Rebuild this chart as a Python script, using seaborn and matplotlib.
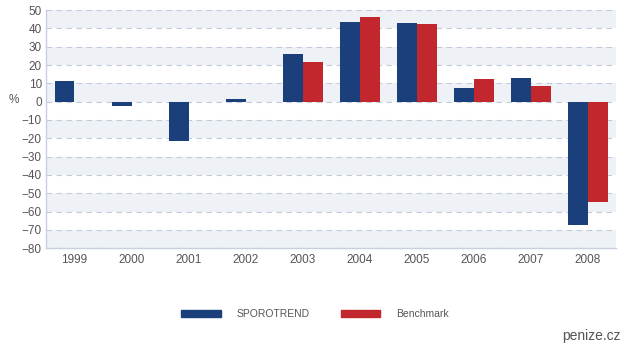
import matplotlib
matplotlib.use('Agg')
import matplotlib.pyplot as plt
import seaborn as sns
import pandas as pd

# Datos (% rendimiento anual)
years = ['1999', '2000', '2001', '2002', '2003', '2004', '2005', '2006', '2007', '2008']
sporotrend = [11.3, -2.6, -21.4, 1.3, 26.1, 43.3, 42.8, 7.7, 13.1, -67.4]
benchmark = [0.0, 0.0, 0.0, -0.4, 21.9, 46.4, 42.2, 12.3, 8.5, -55.0]
series_names = ['SPOROTREND', 'Benchmark']
yticks = list(range(-80, 51, 10))

colors = ['#1b3f7b', '#c1272d']
grid_col = '#c3cad8'
text_col = '#555555'

df = pd.DataFrame({
    'year': years * 2,
    'value': sporotrend + benchmark,
    'serie': [series_names[0]] * len(years) + [series_names[1]] * len(years),
})

sns.set_style('white')
plt.rcParams['font.family'] = ['Liberation Sans', 'DejaVu Sans']

fig = plt.figure(figsize=(6.3, 3.5), dpi=100)
ax = fig.add_axes([0.073, 0.291, 0.905, 0.68])

# Bandas alternas de fondo
for i, lo in enumerate(yticks[:-1]):
    if i % 2 == 0:
        ax.axhspan(lo, lo + 10, color='#eef1f6', zorder=0, lw=0)

sns.barplot(data=df, x='year', y='value', hue='serie', palette=colors,
            width=0.7, ax=ax, saturation=1, legend=False, zorder=3,
            linewidth=0, edgecolor='none')

for y in yticks:
    ax.axhline(y, color=grid_col, lw=0.8, ls=(0, (5, 4)), zorder=1)

ax.set_ylim(-80, 50)
ax.set_xlim(-0.5, len(years) - 0.5)
ax.set_yticks(yticks)
ax.set_xlabel('')
ax.set_ylabel('')
ax.tick_params(axis='both', labelsize=8.5, colors=text_col, length=0, pad=3)
ax.tick_params(axis='x', pad=4)

for s in ['top', 'right']:
    ax.spines[s].set_visible(False)
for s in ['left', 'bottom']:
    ax.spines[s].set_color('#c8d0e0')
    ax.spines[s].set_linewidth(1)

fig.text(0.013, 0.715, '%', fontsize=8.5, color=text_col, va='center')

handles = [plt.Rectangle((0, 0), 1, 1, color=c) for c in colors]
fig.legend(handles, series_names, loc='center', bbox_to_anchor=(0.5, 0.103),
           ncol=2, frameon=False, fontsize=7.5, handlelength=3.8,
           handleheight=0.6, handletextpad=1.5, columnspacing=3,
           labelcolor=text_col)

fig.text(0.985, 0.02, 'penize.cz', fontsize=10, color='#555555', ha='right',
         va='bottom')

fig.savefig('out.png', dpi=100)
